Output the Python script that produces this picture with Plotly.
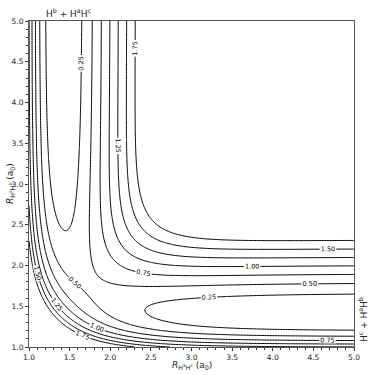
import numpy as np
import plotly.graph_objects as go

# LEPS parameters for H + H2 (lengths in a0, energies in eV)
D_e = 4.746        # Morse well depth (eV)
r_e = 1.402        # equilibrium distance (a0)
beta = 1.028       # Morse range parameter (1/a0)
sato = 0.125       # Sato parameter

r_axis = np.round(np.arange(1.0, 5.0001, 0.02), 3)   # grid coordinates (a0)
levels_start, levels_end, levels_step = 0.25, 1.75, 0.25
x_ticks = [1.0, 1.5, 2.0, 2.5, 3.0, 3.5, 4.0, 4.5, 5.0]
y_ticks = [1.0, 1.5, 2.0, 2.5, 3.0, 3.5, 4.0, 4.5, 5.0]


def coul_exch(r):
    e = np.exp(-beta * (r - r_e))
    s = D_e * (e * e - 2 * e)          # singlet (Morse)
    t = D_e / 2 * (e * e + 2 * e)      # triplet (anti-Morse)
    Q = (s * (1 + sato) + t * (1 - sato)) / 2
    J = (s * (1 + sato) - t * (1 - sato)) / 2
    return Q, J


X, Y = np.meshgrid(r_axis, r_axis)   # X: R(HaHc), Y: R(HaHb)
QA, JA = coul_exch(X)
QB, JB = coul_exch(Y)
QC, JC = coul_exch(X + Y)
V = (QA + QB + QC - np.sqrt(0.5 * ((JA - JB) ** 2 + (JB - JC) ** 2 + (JC - JA) ** 2))) / (1 + sato)
Z = np.round(V + D_e, 4)

fig = go.Figure(go.Contour(
    x=r_axis, y=r_axis, z=Z,
    contours=dict(start=levels_start, end=levels_end, size=levels_step,
                  coloring="lines", showlabels=True,
                  labelfont=dict(size=6.5, color="black", family="DejaVu Sans"),
                  labelformat=".2f"),
    colorscale=[[0, "black"], [1, "black"]],
    line=dict(width=1),
    showscale=False,
    hoverinfo="skip",
))

axis_common = dict(range=[1.0, 5.0], showgrid=False, zeroline=False, automargin=False,
                   showline=True, linecolor="#555", linewidth=1, mirror=True,
                   ticks="outside", ticklen=3, tickcolor="#333",
                   tickformat=".1f",
                   tickfont=dict(size=7.5, family="DejaVu Sans", color="#222"),
                   minor=dict(ticks="outside", ticklen=2, dtick=0.1, tickcolor="#333"))

fig.update_xaxes(tickvals=x_ticks, **axis_common)
fig.update_yaxes(tickvals=y_ticks, **axis_common)

fig.update_layout(
    width=380, height=375,
    margin=dict(l=29, r=26, t=21, b=28),
    plot_bgcolor="white", paper_bgcolor="white",
    font=dict(family="DejaVu Sans", color="#222"),
    annotations=[
        dict(text="H<sup>b</sup> + H<sup>a</sup>H<sup>c</sup>", x=1.48, y=1.0, xref="x", yref="paper",
             yanchor="bottom", showarrow=False, font=dict(size=9), yshift=0),
        dict(text="H<sup>c</sup> + H<sup>a</sup>H<sup>b</sup>", x=1.0, y=1.33, xref="paper", yref="y",
             xanchor="center", yanchor="middle", textangle=-90, showarrow=False,
             font=dict(size=9), xshift=9),
        dict(text="<i>R</i><sub>H<sup>a</sup>H<sup>c</sup></sub> (a<sub>0</sub>)", x=0.5, y=0, xref="paper",
             yref="paper", yanchor="middle", xanchor="center", yshift=-18, showarrow=False,
             font=dict(size=9)),
        dict(text="<i>R</i><sub>H<sup>a</sup>H<sup>b</sup></sub> (a<sub>0</sub>)", x=0, y=0.5, xref="paper",
             yref="paper", xanchor="center", yanchor="middle", xshift=-19, textangle=-90,
             showarrow=False, font=dict(size=9)),
    ],
)

fig.write_html("out.html", config={"displayModeBar": False},
               post_script="document.body.style.margin='0';document.body.style.overflow='hidden';")
